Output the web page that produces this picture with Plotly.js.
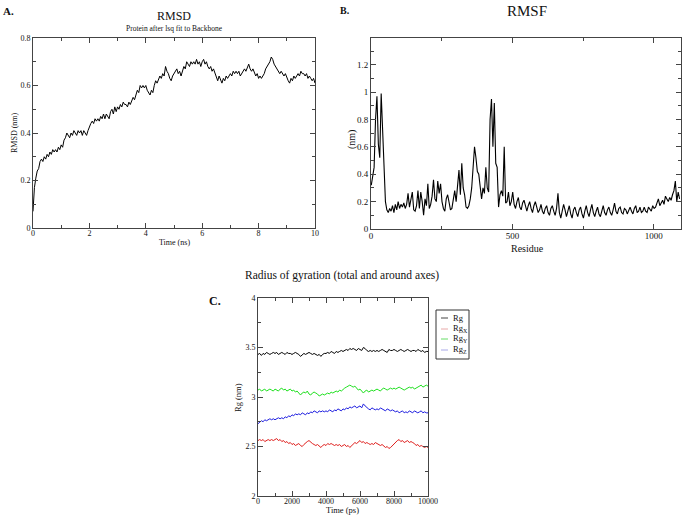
<!DOCTYPE html>
<html>
<head>
<meta charset="utf-8">
<script src="https://cdn.plot.ly/plotly-3.0.1.min.js"></script>
<style>html,body{margin:0;padding:0;background:#fff;}#chart{width:683px;height:519px;}svg text{-webkit-font-smoothing:antialiased;}</style>
</head>
<body>
<div id="chart"></div>
<script>
// ---------- Panel A: RMSD (time in ns, step 0.05) ----------
const rmsdStep = 0.05;
const rmsdValues = [
0.07,0.17,0.21,0.24,0.25,0.28,0.29,0.28,0.30,0.29,
0.31,0.30,0.32,0.31,0.33,0.32,0.33,0.32,0.34,0.33,
0.35,0.34,0.37,0.38,0.40,0.39,0.38,0.40,0.39,0.41,
0.40,0.39,0.41,0.40,0.41,0.39,0.41,0.40,0.39,0.41,
0.43,0.44,0.45,0.44,0.46,0.45,0.46,0.45,0.47,0.46,
0.48,0.46,0.48,0.47,0.46,0.49,0.50,0.48,0.51,0.49,
0.51,0.50,0.52,0.51,0.53,0.52,0.52,0.51,0.53,0.52,
0.54,0.55,0.54,0.56,0.58,0.57,0.60,0.59,0.60,0.59,
0.60,0.58,0.57,0.56,0.58,0.57,0.60,0.62,0.61,0.63,
0.64,0.63,0.65,0.64,0.68,0.66,0.65,0.63,0.62,0.64,
0.65,0.66,0.67,0.65,0.66,0.64,0.66,0.68,0.67,0.70,
0.69,0.68,0.70,0.69,0.70,0.69,0.71,0.69,0.70,0.68,
0.70,0.71,0.69,0.70,0.68,0.67,0.68,0.66,0.67,0.65,
0.64,0.62,0.64,0.62,0.61,0.63,0.62,0.64,0.63,0.64,
0.65,0.64,0.66,0.65,0.66,0.65,0.66,0.64,0.65,0.66,
0.67,0.66,0.68,0.69,0.67,0.66,0.67,0.65,0.64,0.65,
0.63,0.64,0.63,0.64,0.65,0.67,0.68,0.69,0.70,0.72,
0.71,0.69,0.68,0.67,0.66,0.65,0.66,0.65,0.64,0.65,
0.63,0.62,0.61,0.63,0.62,0.64,0.63,0.64,0.65,0.64,
0.66,0.65,0.65,0.64,0.65,0.63,0.64,0.63,0.62,0.63,
0.61
];
const rmsdTime = rmsdValues.map((_, i) => +(i * rmsdStep).toFixed(2));

// ---------- Panel B: RMSF (residue, step 5 starting at 1) ----------
const rmsfStart = 1, rmsfStep = 5;
const rmsfValues = [
0.32,0.40,0.45,0.80,0.97,0.62,0.52,0.99,0.70,0.52,
0.20,0.14,0.12,0.15,0.13,0.17,0.12,0.18,0.14,0.20,
0.15,0.18,0.16,0.19,0.15,0.18,0.26,0.16,0.22,0.27,
0.14,0.13,0.17,0.28,0.15,0.27,0.20,0.10,0.22,0.17,
0.33,0.15,0.18,0.24,0.36,0.22,0.20,0.35,0.26,0.33,
0.20,0.15,0.13,0.22,0.25,0.18,0.14,0.15,0.22,0.28,
0.20,0.30,0.43,0.25,0.48,0.30,0.25,0.16,0.15,0.17,
0.22,0.30,0.42,0.60,0.52,0.42,0.40,0.30,0.22,0.30,
0.26,0.45,0.30,0.27,0.80,0.95,0.60,0.92,0.48,0.45,
0.16,0.25,0.28,0.24,0.60,0.19,0.20,0.27,0.17,0.20,
0.27,0.18,0.15,0.20,0.23,0.16,0.14,0.19,0.21,0.17,
0.13,0.17,0.20,0.15,0.12,0.17,0.20,0.16,0.12,0.14,
0.18,0.13,0.11,0.15,0.17,0.12,0.10,0.15,0.17,0.13,
0.10,0.15,0.26,0.12,0.08,0.13,0.18,0.14,0.09,0.13,
0.17,0.11,0.08,0.14,0.16,0.12,0.09,0.14,0.16,0.11,
0.08,0.13,0.17,0.12,0.09,0.14,0.18,0.12,0.09,0.13,
0.16,0.11,0.09,0.13,0.17,0.12,0.10,0.14,0.16,0.12,
0.10,0.14,0.19,0.13,0.11,0.15,0.16,0.12,0.11,0.15,
0.14,0.11,0.13,0.16,0.13,0.11,0.15,0.17,0.12,0.13,
0.16,0.12,0.13,0.16,0.13,0.12,0.16,0.14,0.13,0.17,
0.15,0.16,0.20,0.22,0.17,0.19,0.21,0.18,0.24,0.22,
0.20,0.23,0.21,0.25,0.28,0.35,0.20,0.27,0.22
];
const rmsfResidue = rmsfValues.map((_, i) => rmsfStart + i * rmsfStep);

// ---------- Panel C: Radius of gyration (time in ps, step 100) ----------
const rgStep = 100;
const rgTotal = [
3.43,3.44,3.42,3.44,3.43,3.45,3.44,3.43,3.44,3.45,
3.44,3.45,3.43,3.44,3.45,3.44,3.43,3.45,3.44,3.44,
3.43,3.44,3.45,3.44,3.43,3.41,3.43,3.44,3.43,3.44,
3.45,3.44,3.43,3.44,3.43,3.42,3.43,3.41,3.43,3.44,
3.44,3.45,3.44,3.46,3.45,3.44,3.46,3.45,3.46,3.47,
3.46,3.47,3.48,3.47,3.49,3.48,3.49,3.48,3.47,3.49,
3.48,3.47,3.50,3.49,3.47,3.46,3.47,3.46,3.47,3.46,
3.47,3.46,3.47,3.48,3.47,3.46,3.45,3.48,3.47,3.47,
3.48,3.47,3.46,3.47,3.48,3.47,3.46,3.47,3.48,3.47,
3.46,3.47,3.47,3.46,3.48,3.47,3.46,3.47,3.45,3.46,
3.46
];
const rgX = [
2.56,2.57,2.56,2.57,2.55,2.56,2.57,2.56,2.57,2.56,
2.57,2.58,2.56,2.57,2.55,2.56,2.54,2.55,2.53,2.54,
2.52,2.53,2.51,2.52,2.53,2.51,2.50,2.52,2.54,2.55,
2.56,2.54,2.53,2.52,2.51,2.52,2.50,2.49,2.51,2.52,
2.51,2.53,2.52,2.53,2.52,2.51,2.52,2.51,2.52,2.50,
2.51,2.52,2.50,2.51,2.49,2.51,2.52,2.54,2.53,2.55,
2.56,2.54,2.55,2.53,2.54,2.53,2.52,2.53,2.52,2.54,
2.53,2.52,2.51,2.52,2.50,2.49,2.50,2.48,2.49,2.51,
2.53,2.55,2.56,2.57,2.55,2.56,2.54,2.55,2.56,2.54,
2.55,2.54,2.53,2.51,2.52,2.50,2.51,2.50,2.49,2.50,
2.49
];
const rgY = [
3.07,3.08,3.06,3.07,3.08,3.06,3.07,3.08,3.07,3.06,
3.08,3.07,3.06,3.08,3.09,3.07,3.08,3.06,3.07,3.08,
3.06,3.07,3.05,3.06,3.04,3.02,3.04,3.05,3.04,3.06,
3.03,3.02,3.04,3.05,3.04,3.03,3.01,3.02,3.03,3.02,
3.03,3.04,3.03,3.05,3.04,3.05,3.06,3.05,3.07,3.06,
3.08,3.09,3.10,3.11,3.12,3.11,3.10,3.11,3.09,3.07,
3.08,3.06,3.04,3.06,3.07,3.05,3.06,3.07,3.06,3.07,
3.08,3.07,3.06,3.08,3.09,3.08,3.07,3.08,3.09,3.08,
3.09,3.08,3.09,3.10,3.09,3.08,3.07,3.08,3.09,3.10,
3.09,3.10,3.08,3.09,3.10,3.11,3.12,3.10,3.11,3.12,
3.11
];
const rgZ = [
2.73,2.75,2.76,2.75,2.77,2.76,2.77,2.78,2.77,2.78,
2.77,2.78,2.79,2.78,2.79,2.78,2.80,2.79,2.81,2.80,
2.82,2.81,2.83,2.82,2.83,2.82,2.84,2.83,2.82,2.84,
2.83,2.85,2.84,2.86,2.85,2.84,2.86,2.85,2.86,2.85,
2.86,2.85,2.87,2.86,2.85,2.87,2.86,2.88,2.87,2.86,
2.88,2.87,2.89,2.88,2.90,2.89,2.90,2.91,2.89,2.90,
2.91,2.89,2.93,2.91,2.89,2.88,2.87,2.89,2.88,2.87,
2.88,2.87,2.89,2.88,2.87,2.86,2.88,2.87,2.86,2.87,
2.86,2.85,2.86,2.84,2.85,2.86,2.84,2.85,2.84,2.86,
2.85,2.84,2.86,2.85,2.84,2.85,2.86,2.84,2.85,2.84,
2.84
];
const rgTime = rgTotal.map((_, i) => i * rgStep);
const rgNames = ['Rg', 'Rg<sub>X</sub>', 'Rg<sub>Y</sub>', 'Rg<sub>Z</sub>'];
const rgColors = ['#000000', '#e0201e', '#1fe01f', '#1f1fe0'];
const rgLegendColors = ['#444444', '#e8a8a8', '#66dd66', '#a8a8e8'];

// ---------- layout helpers ----------
const W = 683, H = 519;
const px = x => x / W;
const py = y => 1 - y / H;
const SERIF = 'Liberation Serif, Times New Roman, serif';
const FRAME = '#444';

function axis(domain, range, dtick, minorDtick, fontSize, extra) {
  return Object.assign({
    domain: domain, range: range, dtick: dtick, tick0: 0,
    showline: true, linecolor: FRAME, linewidth: 1, mirror: 'allticks',
    ticks: 'inside', ticklen: 5, tickwidth: 1, tickcolor: FRAME,
    minor: {dtick: minorDtick, ticks: 'inside', ticklen: 3, tickcolor: FRAME, tickwidth: 1},
    showgrid: false, zeroline: false,
    tickfont: {family: SERIF, size: fontSize, color: '#111'},
    fixedrange: true
  }, extra || {});
}

const traces = [
  {x: rmsdTime, y: rmsdValues, type: 'scatter', mode: 'lines', line: {color: '#000', width: 1}, xaxis: 'x', yaxis: 'y'},
  {x: rmsfResidue, y: rmsfValues, type: 'scatter', mode: 'lines', line: {color: '#000', width: 1.1}, xaxis: 'x2', yaxis: 'y2'}
];
[rgTotal, rgX, rgY, rgZ].forEach((s, k) => {
  traces.push({x: rgTime, y: s, type: 'scatter', mode: 'lines', name: rgNames[k],
    line: {color: rgColors[k], width: 1}, xaxis: 'x3', yaxis: 'y3'});
});

function ann(text, x, y, size, opts) {
  return Object.assign({text: text, x: px(x), y: py(y), xref: 'paper', yref: 'paper',
    showarrow: false, xanchor: 'center', yanchor: 'middle',
    font: {family: SERIF, size: size, color: '#111'}}, opts || {});
}

// custom compact legend for panel C (xmgrace style)
const legendRowsY = [318, 329, 339, 350];
const legendShapes = [{type: 'rect', xref: 'paper', yref: 'paper',
  x0: px(436), x1: px(469), y0: py(359), y1: py(310), line: {color: '#333', width: 1}, fillcolor: 'rgba(0,0,0,0)'}];
const legendAnns = [];
rgNames.forEach((n, k) => {
  legendShapes.push({type: 'line', xref: 'paper', yref: 'paper',
    x0: px(441), x1: px(448), y0: py(legendRowsY[k]), y1: py(legendRowsY[k]),
    line: {color: rgLegendColors[k], width: 1}});
  legendAnns.push(ann(n, 451, legendRowsY[k] - 0.5, 8.5, {xanchor: 'left'}));
});

const layout = {
  width: W, height: H,
  margin: {l: 0, r: 0, t: 0, b: 0},
  paper_bgcolor: '#fff', plot_bgcolor: '#fff',
  showlegend: false,
  xaxis: axis([px(33), px(315)], [0, 10], 2, 1, 8, {anchor: 'y', ticklabelstandoff: -3}),
  yaxis: axis([py(228), py(38)], [0, 0.8], 0.2, 0.1, 8, {anchor: 'x'}),
  xaxis2: axis([px(371), px(681)], [0, 1096], 500, 250, 9, {anchor: 'y2', ticklabelstandoff: -2}),
  yaxis2: axis([py(229), py(38)], [0, 1.395], 0.2, 0.1, 9, {anchor: 'x2'}),
  xaxis3: axis([px(258), px(428)], [0, 10000], 2000, 1000, 8, {anchor: 'y3', tickformat: 'd', ticklabelstandoff: -3}),
  yaxis3: axis([py(496), py(298)], [2, 4], 0.5, 0.25, 8, {anchor: 'x3'}),
  shapes: legendShapes,
  annotations: [
    ann('<b>A.</b>', 8, 11, 11),
    ann('RMSD', 174, 16, 12),
    ann('Protein after lsq fit to Backbone', 174, 28, 7.5),
    ann('Time (ns)', 174, 242, 8),
    ann('RMSD (nm)', 14, 133, 8, {textangle: -90}),
    ann('<b>B.</b>', 345, 11, 10),
    ann('RMSF', 527, 11, 15),
    ann('Residue', 527, 249, 10),
    ann('(nm)', 352, 140, 10, {textangle: -90}),
    ann('Radius of gyration (total and around axes)', 342, 275, 11.5),
    ann('<b>C.</b>', 215, 301, 12),
    ann('Time (ps)', 342, 510, 8.5),
    ann('Rg (nm)', 238, 398, 8.5, {textangle: -90})
  ].concat(legendAnns)
};

Plotly.newPlot('chart', traces, layout, {displayModeBar: false, staticPlot: true});
</script>
</body>
</html>
